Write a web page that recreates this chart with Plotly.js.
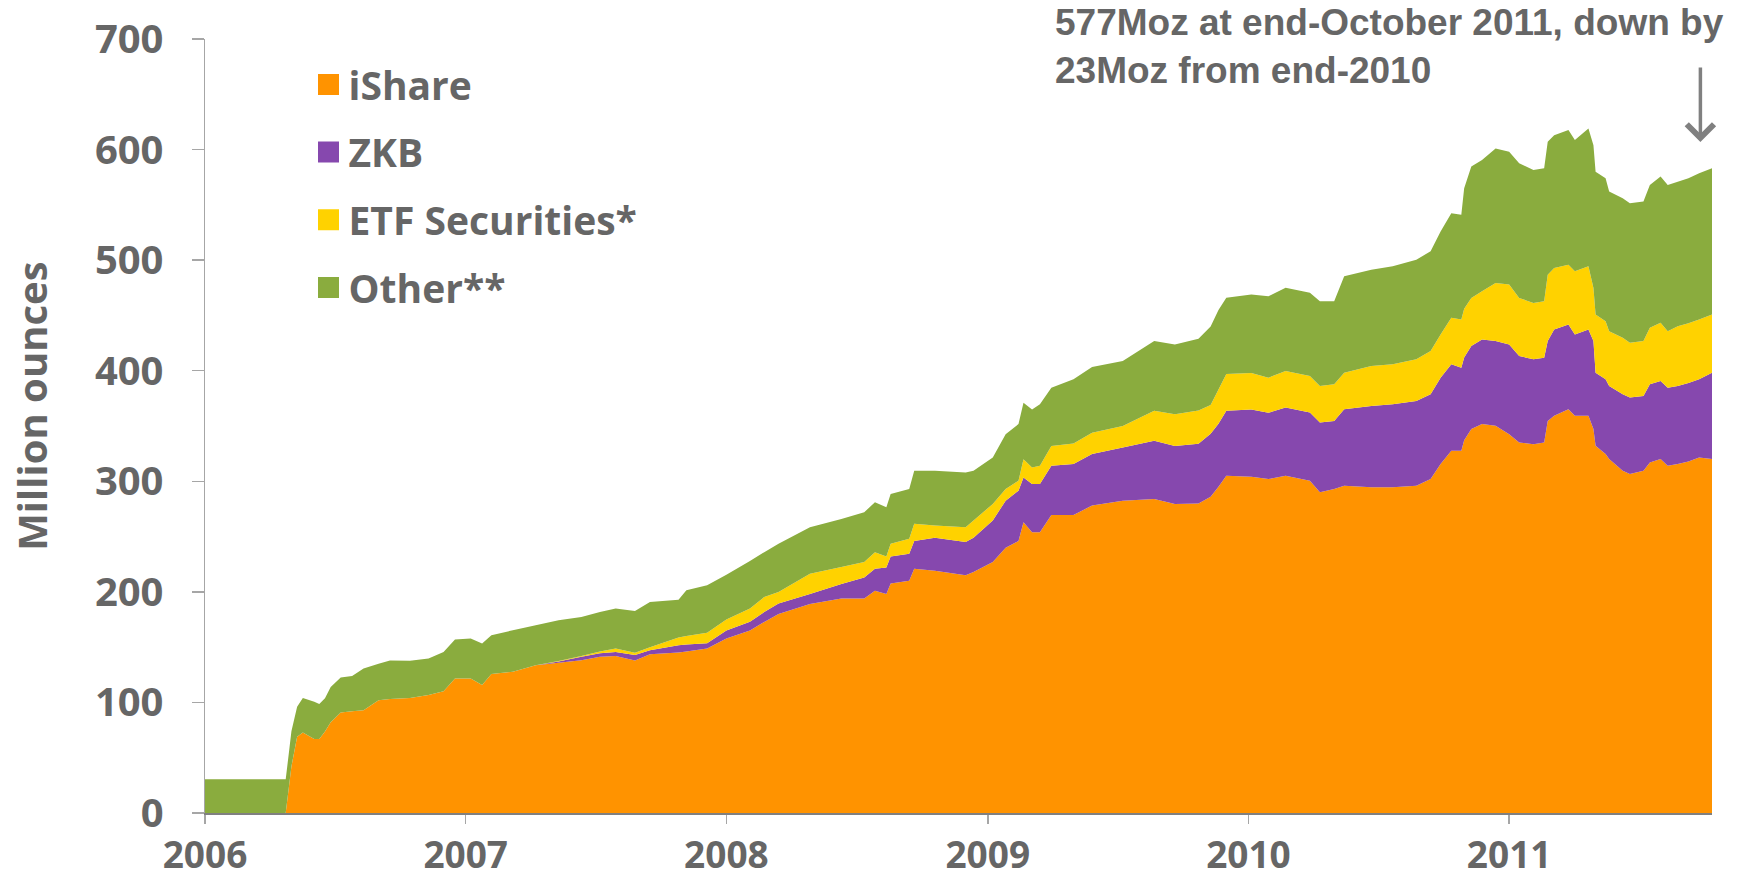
<!DOCTYPE html>
<html>
<head>
<meta charset="utf-8">
<script src="https://cdn.plot.ly/plotly-3.0.1.min.js"></script>
<style>html,body{margin:0;padding:0;background:#fff;}#chart{width:1740px;height:880px;}</style>
</head>
<body>
<div id="chart"></div>
<script>
const dates = ['2006-01-01','2006-04-24','2006-04-28','2006-05-02','2006-05-10','2006-05-18','2006-06-03','2006-06-10','2006-06-18','2006-06-26',
'2006-07-10','2006-07-26','2006-08-11','2006-09-01','2006-09-17','2006-10-15','2006-11-10','2006-12-01','2006-12-17','2007-01-08',
'2007-01-24','2007-02-06','2007-03-08','2007-04-09','2007-05-11','2007-06-12','2007-07-08','2007-07-30','2007-08-26','2007-09-16',
'2007-10-26','2007-11-06','2007-12-05','2008-01-01','2008-02-03','2008-02-23','2008-03-14','2008-04-27','2008-06-10','2008-07-12',
'2008-07-27','2008-08-12','2008-08-18','2008-09-13','2008-09-20','2008-10-19','2008-12-01','2008-12-12','2009-01-08','2009-01-26',
'2009-02-13','2009-02-20','2009-03-04','2009-03-15','2009-03-31','2009-05-01','2009-05-27','2009-07-09','2009-08-22','2009-09-20',
'2009-10-23','2009-11-09','2009-11-20','2009-12-01','2010-01-05','2010-01-29','2010-02-22','2010-03-28','2010-04-11','2010-05-01',
'2010-05-15','2010-06-22','2010-07-22','2010-08-24','2010-09-13','2010-09-27','2010-10-12','2010-10-26','2010-10-30','2010-11-09',
'2010-11-24','2010-12-13','2011-01-01','2011-01-15','2011-02-04','2011-02-19','2011-02-24','2011-03-05','2011-03-25','2011-04-03',
'2011-04-22','2011-04-29','2011-05-02','2011-05-16','2011-05-21','2011-06-09','2011-06-19','2011-07-08','2011-07-17','2011-08-01',
'2011-08-11','2011-08-25','2011-09-09','2011-09-24','2011-10-12'];

const iShare = [0,0,21,42,69,72.7,67,67,73.6,82,
91,92,93,102,103,104,106.7,110,121.7,121.7,
115.7,125.6,127.7,133.7,135.8,138.2,141.2,142,138,143.6,
145.2,146,148.8,157.8,165,172.8,180,189,194,194,
201,198,207.6,210,221,219,215,218,227,240,
246,263,254,254,269.6,269.6,278,282.5,284,279.5,
280,286,295,305,304,302,305,300.5,290,293,
296,294.5,294.5,296,302,315.6,327.6,327.6,337,347.2,
351.7,350.2,342.6,335.1,333.6,335.1,354.6,359.2,365.2,359.2,
359.2,347.2,332.1,324.6,320.1,309.6,306.6,309.6,317,320.1,
314,315.6,318,321.6,320.1];

const zkb = [0,0,0,0,0,0,0,0,0,0,
0,0,0,0,0,0,0,0,0,0,
0,0,0,0,1.2,3,3.3,3.7,5,3.6,
6.5,6.5,4.7,7.2,8,9,9.4,9,13,19,
20,24,24.4,24.4,25,30,30,31,37.5,42.5,
45.5,40.5,43.5,43.5,44.4,46,46.6,48.1,52.6,52.5,
54,57,57,58.7,61,60,61.7,61.7,63.1,61.6,
69.2,73.7,75.2,76.7,76.7,78.1,78.2,75.1,75,75.1,
76.6,76.6,81.2,78.2,76.7,76.6,72.2,78.1,76.6,73.6,
78.1,79.6,66.1,67.6,66.1,69.1,69.1,67.6,70.7,70.6,
70.7,70.6,71,70.6,78.1];

const etfSecurities = [0,0,0,0,0,0,0,0,0,0,
0,0,0,0,0,0,0,0,0,0,
0,0,0,0,0.5,0.8,1.5,3.1,2,2.8,
7,7.5,9.5,10,12,13.5,10.4,18.4,15.4,13.9,
14.9,10,11.5,13.6,15.5,11,13.4,15.5,15,10.5,
9,16.5,15,16.5,18,18.6,19.4,19.4,27.1,28.7,
30,26,31,33.3,33,31.7,33,33,33.1,33.1,
33,36,36.1,37.6,39.1,39.1,42,43.6,44,43.5,
43.6,52.5,54.1,52.5,51,51.2,60.1,55.6,54.1,57.1,
57.1,48.1,52.7,52.6,49.6,51.1,49.6,49.6,51.1,52.6,
51.1,54.1,54,54.1,52.7];

const other = [30.6,30.6,31,32,27,31.3,33.6,31.6,30.1,32,
31.6,32,37.7,33,35,33.6,33.1,35.7,35.3,36.1,
37.6,35.2,37.6,36.1,36.8,35.3,35.8,36.1,37.7,40.8,
34.2,41.4,42.9,40.5,43,40.6,43.7,42,43.6,45.1,
45.1,44.5,45,45,48.1,49.6,49.6,45.1,42.1,49.6,
51.2,51,52.5,55.7,52.7,58,59.3,58.7,63.1,63.1,
65,71,72,69,71,73.7,75.3,75.2,76.7,75.2,
87.2,87.2,88.6,90.1,90.2,93.2,94.7,94.7,109,118.8,
118.7,121.7,120.1,121.8,120.3,120.1,120.1,120.1,121.8,118.8,
124.6,129.1,129.1,129.2,126.2,126.2,126.2,126.2,129.2,132.3,
132.2,130.7,131,132.2,132.1];

const seriesNames = ['iShare','ZKB','ETF Securities*','Other**'];
const seriesColors = ['#FF9300','#8648AE','#FFD200','#8AAC3E'];
const seriesValues = [iShare, zkb, etfSecurities, other];
const yearTicks = ['2006-01-01','2007-01-01','2008-01-01','2009-01-01','2010-01-01','2011-01-01'];
const yearLabels = ['2006','2007','2008','2009','2010','2011'];
const yTicks = [0,100,200,300,400,500,600,700];

const grey = '#666666';
const traces = [];
seriesValues.forEach((vals, i) => {
  traces.push({
    type: 'scatter', mode: 'none', x: dates, y: vals, name: seriesNames[i],
    stackgroup: 'etf', fillcolor: seriesColors[i], line: {width: 0},
    showlegend: false, hoverinfo: 'x+y+name'
  });
});
seriesNames.forEach((n, i) => {
  traces.push({
    type: 'scatter', mode: 'markers', x: [null], y: [null], name: n,
    legendgroup: 'g' + i, showlegend: true,
    marker: {symbol: 'square', size: 16, color: seriesColors[i],
      line: {width: 5, color: seriesColors[i]}}
  });
});

const layout = {
  width: 1740, height: 880,
  margin: {l: 205, r: 28, t: 39, b: 67},
  paper_bgcolor: '#ffffff', plot_bgcolor: '#ffffff',
  font: {family: 'Open Sans, sans-serif', color: grey},
  showlegend: true,
  legend: {
    x: 0.0687, y: 0.9825, xanchor: 'left', yanchor: 'top',
    font: {family: 'Open Sans, sans-serif', size: 39, color: grey, weight: 700},
    tracegroupgap: 14, bgcolor: 'rgba(0,0,0,0)', borderwidth: 0,
    itemclick: false, itemdoubleclick: false
  },
  xaxis: {
    type: 'date', range: ['2006-01-01', '2011-10-12'],
    tickmode: 'array', tickvals: yearTicks, ticktext: yearLabels,
    showgrid: false, zeroline: false,
    showline: true, linecolor: '#808080', linewidth: 1.5,
    ticks: 'outside', ticklen: 9, tickwidth: 1.5, tickcolor: '#A6A6A6',
    tickfont: {family: 'Open Sans, sans-serif', size: 37, color: grey, weight: 700},
    ticklabelstandoff: 0
  },
  yaxis: {
    range: [0, 700], tickmode: 'array', tickvals: yTicks,
    showgrid: false, zeroline: false,
    showline: true, linecolor: '#A6A6A6', linewidth: 1.5,
    ticks: 'outside', ticklen: 12, tickwidth: 1.5, tickcolor: '#A6A6A6',
    tickfont: {family: 'Open Sans, sans-serif', size: 40, color: grey, weight: 700},
    ticklabelstandoff: 20
  },
  annotations: [
    {
      xref: 'paper', yref: 'paper', x: -0.1148, y: 0.526, xanchor: 'center', yanchor: 'middle',
      textangle: -90, showarrow: false, text: 'Million ounces',
      font: {family: 'Open Sans, sans-serif', size: 40, color: grey, weight: 700}
    },
    {
      xref: 'paper', yref: 'paper', x: 0.563, y: 0.990, xanchor: 'left', yanchor: 'middle',
      align: 'left', showarrow: false,
      text: '577Moz at end-October 2011, down by<br>23Moz from end-2010',
      font: {family: 'Liberation Sans, Arial, sans-serif', size: 37, color: grey, weight: 700}
    },
    {
      xref: 'paper', yref: 'paper', x: 0.9923, y: 0.8668, ax: 0, ay: -76,
      text: '', showarrow: true, arrowhead: 4, arrowsize: 1.5, arrowwidth: 3.5, arrowcolor: '#808080'
    }
  ]
};

Plotly.newPlot('chart', traces, layout, {displayModeBar: false, staticPlot: true});
</script>
</body>
</html>
